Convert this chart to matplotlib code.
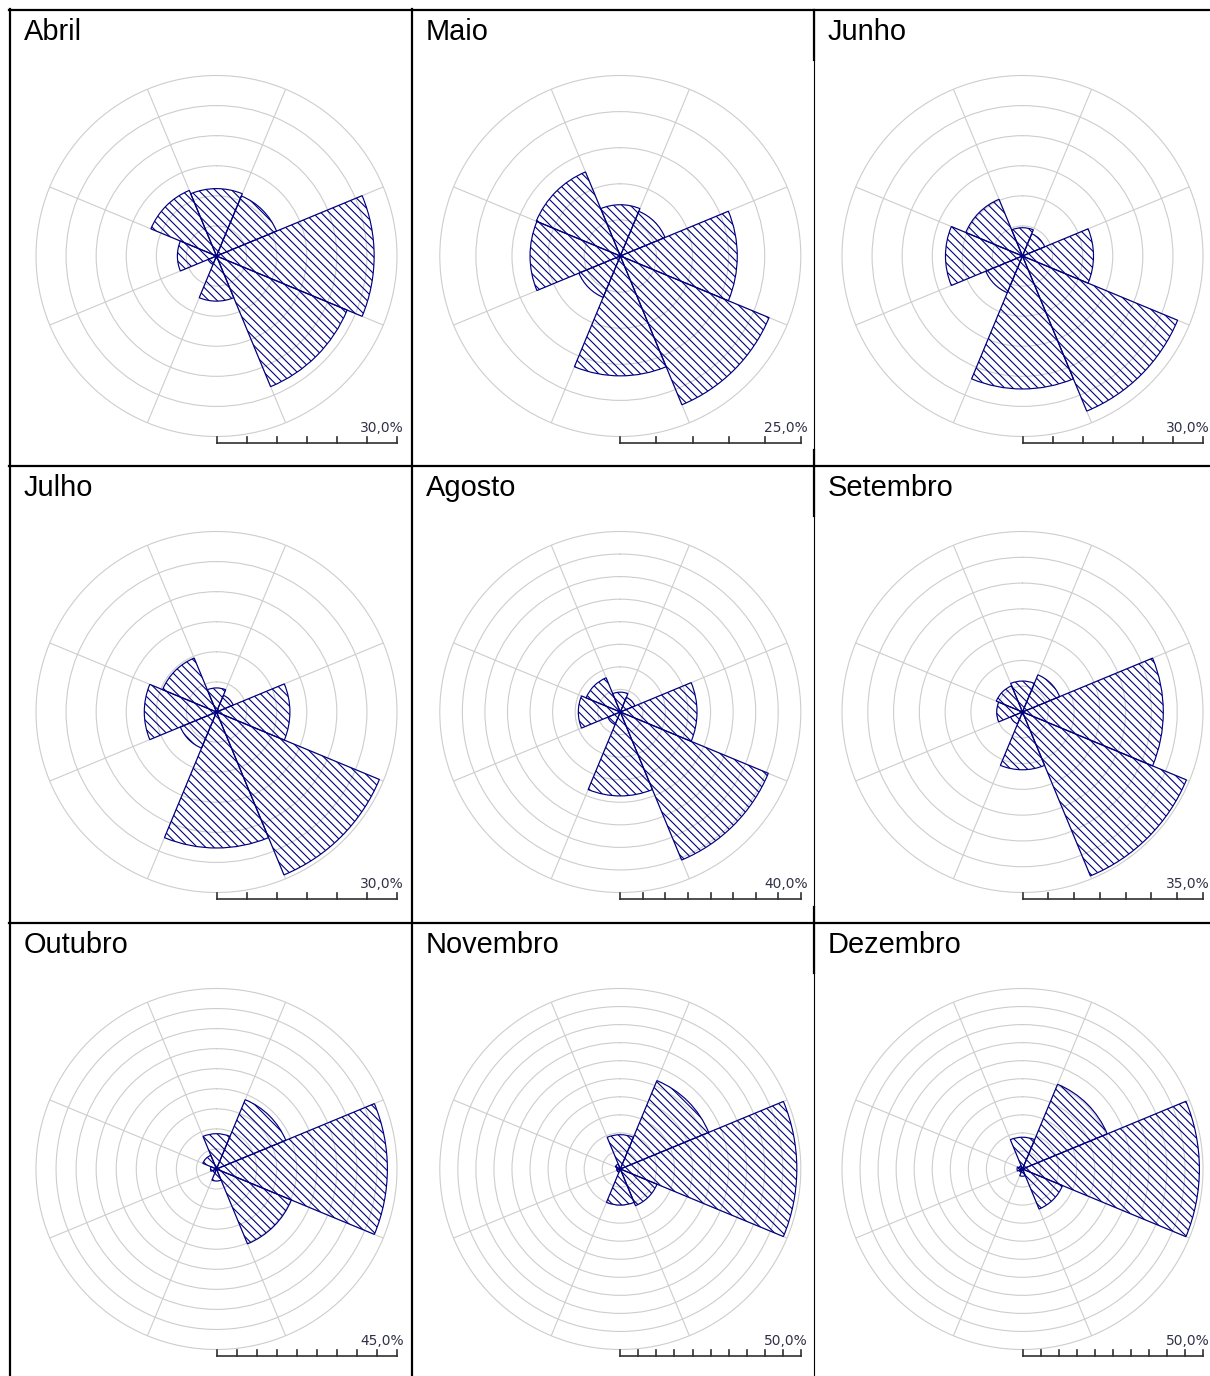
import numpy as np
import matplotlib
matplotlib.use("Agg")
import matplotlib.pyplot as plt
from matplotlib.lines import Line2D

# Wind-direction frequency (%) per month, sectors N, NE, E, SE, S, SW, W, NW
directions = ["N", "NE", "E", "SE", "S", "SW", "W", "NW"]
months = ["Abril", "Maio", "Junho", "Julho", "Agosto", "Setembro",
          "Outubro", "Novembro", "Dezembro"]
scale_max = [30, 25, 30, 30, 40, 35, 45, 50, 50]

abril = [11.2, 10.8, 26.2, 23.5, 7.5, 1.5, 6.5, 11.8]
maio = [7.1, 6.7, 16.2, 22.3, 16.6, 6.2, 12.5, 12.6]
junho = [4.7, 4.0, 11.8, 27.9, 22.1, 6.6, 12.8, 10.2]
julho = [4.0, 3.0, 12.2, 29.3, 22.6, 6.5, 12.0, 9.7]
agosto = [4.4, 3.5, 17.0, 35.5, 18.6, 3.0, 9.3, 8.2]
setembro = [6.0, 7.8, 27.3, 34.4, 11.2, 2.5, 5.0, 5.5]
outubro = [8.8, 18.7, 42.6, 20.2, 3.0, 1.0, 1.5, 3.7]
novembro = [9.5, 26.5, 48.9, 11.0, 10.0, 1.0, 1.0, 1.5]
dezembro = [8.8, 25.4, 49.0, 12.0, 2.0, 1.0, 1.5, 1.0]
frequencies = [abril, maio, junho, julho, agosto, setembro,
               outubro, novembro, dezembro]

W, H = 1210, 1376
DPI = 100
NAVY = "#000080"
GRID = "#cdcdcd"

plt.rcParams["hatch.linewidth"] = 0.8

fig = plt.figure(figsize=(W / DPI, H / DPI), dpi=DPI)
fig.patch.set_facecolor("white")

col_left = [10, 412, 814]
row_top = [10, 466, 923]
col_cx = [216.5, 620.3, 1022.5]
row_cy = [256, 712, 1169]
R = 180.5


def fx(x):
    return x / W


def fy(y):
    return 1 - y / H


theta = np.deg2rad(np.arange(0, 360, 45))

for i, (name, rmax, vals) in enumerate(zip(months, scale_max, frequencies)):
    r, c = divmod(i, 3)
    cx, cy = col_cx[c], row_cy[r]
    ax = fig.add_axes([fx(cx - R), fy(cy + R), 2 * R / W, 2 * R / H],
                      projection="polar")
    ax.set_theta_zero_location("N")
    ax.set_theta_direction(-1)
    ax.set_facecolor("none")
    ax.set_ylim(0, rmax)
    ax.set_rgrids(np.arange(5, rmax, 5), labels=[])
    ax.set_thetagrids(np.arange(22.5, 360, 45), labels=[])
    ax.grid(True, color=GRID, linewidth=0.8)
    ax.spines["polar"].set_color(GRID)
    ax.spines["polar"].set_linewidth(0.8)
    ax.set_axisbelow(True)
    ax.bar(theta, vals, width=np.pi / 4, bottom=0, align="center",
           facecolor="none", edgecolor=NAVY, hatch="\\\\\\\\",
           linewidth=0.85, zorder=3)

    # month title
    fig.text(fx(col_left[c] + 14), fy(row_top[r] + 30), name,
             family="Liberation Sans", fontsize=20.9, color="black",
             ha="left", va="baseline")

    # scale bar with one tick every 5 %
    by = cy + 187
    n = int(rmax // 5)
    fig.add_artist(Line2D([fx(cx), fx(cx + R)], [fy(by), fy(by)],
                          color="#303030", linewidth=1.2))
    for k in range(n + 1):
        xk = cx + R * k / n
        fig.add_artist(Line2D([fx(xk), fx(xk)], [fy(by), fy(by - 6)],
                              color="#303030", linewidth=1.2))
    fig.text(fx(cx + R + 7), fy(by - 11), f"{rmax:.1f}%".replace(".", ","),
             family="DejaVu Sans", fontsize=9.9, color="#303048",
             ha="right", va="baseline")

# table borders
def hline(y, x0, x1, lw):
    fig.add_artist(Line2D([fx(x0), fx(x1)], [fy(y), fy(y)],
                          color="black", linewidth=lw))


def vline(x, y0, y1, lw):
    fig.add_artist(Line2D([fx(x), fx(x)], [fy(y0), fy(y1)],
                          color="black", linewidth=lw))


for y in row_top:
    hline(y, 9, W, 1.6)
vline(10, 9, H, 1.6)
vline(412, 9, H, 1.6)
vline(814, 9, H, 0.8)
for y in row_top:
    vline(814, y, y + 50, 1.6)
for y in [450, 907]:
    vline(814, y, y + 16, 1.6)

fig.savefig("out.png", dpi=DPI, facecolor="white")
